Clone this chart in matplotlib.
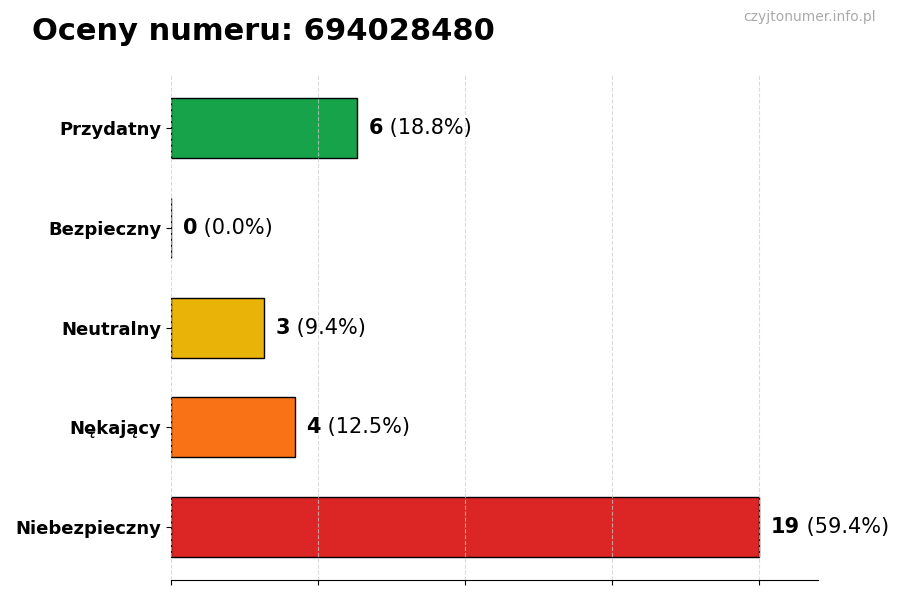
import matplotlib.pyplot as plt
import numpy as np

# data
categories = ['Niebezpieczny', 'Nękający', 'Neutralny', 'Bezpieczny', 'Przydatny']
counts = [19, 4, 3, 0, 6]
colors = ['#dc2626', '#f97316', '#eab308', '#22c55e', '#16a34a']
title = 'Oceny numeru: 694028480'
watermark = 'czyjtonumer.info.pl'

total = sum(counts)
max_val = max(counts)

fig = plt.figure(figsize=(9, 6), dpi=100)
ax = fig.add_axes([0.19, 0.033, 0.719, 0.842])

y = np.arange(len(categories))
ax.barh(y, counts, height=0.6, color=colors, edgecolor='black', linewidth=1, zorder=2)

ax.set_yticks(y)
ax.set_yticklabels(categories, fontsize=13, fontweight='bold')
ax.set_xlim(0, max_val * 1.1)
ax.set_xticks(np.linspace(0, max_val, 5))
ax.set_xticklabels([])
# grid sits on top of the bars, faint
ax.set_axisbelow(False)
ax.xaxis.grid(True, linestyle='--', color='#cccccc', linewidth=0.8, alpha=0.7, zorder=3)

for s in ['top', 'right', 'left']:
    ax.spines[s].set_visible(False)

# value labels: bold count + normal percentage
fig.canvas.draw()
renderer = fig.canvas.get_renderer()
for yi, c in zip(y, counts):
    pct = c / total * 100
    t = ax.text(c + max_val * 0.02, yi, str(c), fontsize=15, fontweight='bold',
                va='center', ha='left')
    ext = t.get_window_extent(renderer=renderer)
    x_end = ax.transData.inverted().transform((ext.x1, ext.y0))[0]
    ax.annotate(' ({:.1f}%)'.format(pct), xy=(x_end, yi), xycoords='data',
                fontsize=15, va='center', ha='left', annotation_clip=False)

fig.text(0.035, 0.948, title, fontsize=22, fontweight='bold', va='center', ha='left')
fig.text(0.973, 0.971, watermark, fontsize=10, color='#aaaaaa', va='center', ha='right')

plt.savefig('out.png', dpi=100)
